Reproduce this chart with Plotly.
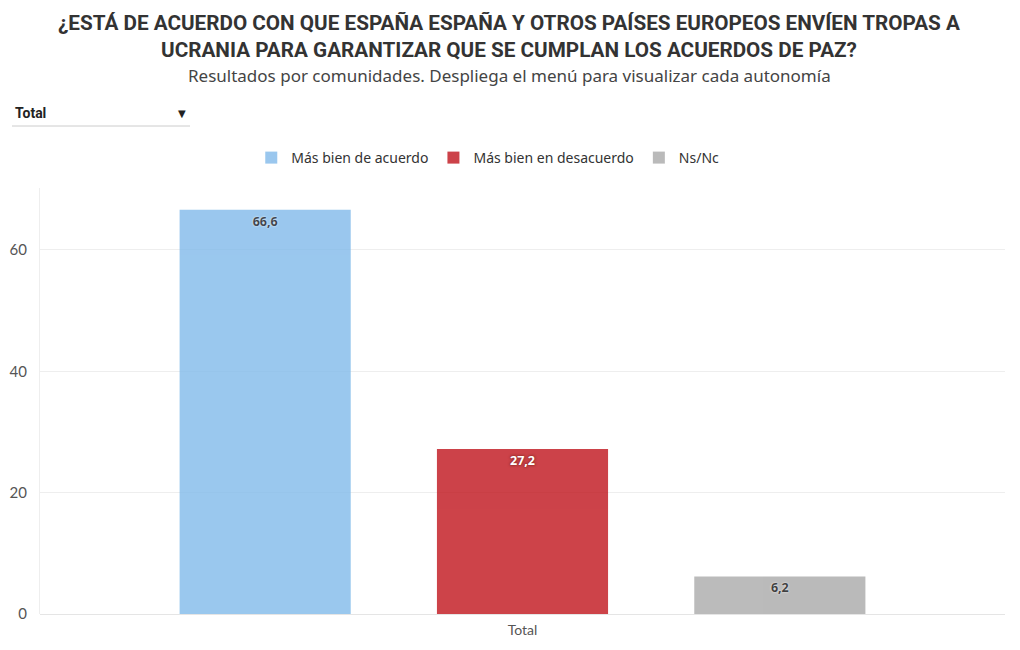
import plotly.graph_objects as go

categories = ["Total"]
series_names = ["Más bien de acuerdo", "Más bien en desacuerdo", "Ns/Nc"]
acuerdo = [66.6]
desacuerdo = [27.2]
nsnc = [6.2]
y_ticks = [0, 20, 40, 60]

colors = ["#81BAEA", "#C0141C", "#AAAAAA"]
label_colors = ["#111827", "#FFFFFF", "#111111"]
label_shadows = ["0px 0px 2px #FFFFFF",
                 "0px 0px 3px #8B0000, 0px 0px 3px #8B0000, 0px 0px 2px #8B0000, 0px 0px 2px #8B0000",
                 "0px 0px 2px #FFFFFF"]

fig = go.Figure()
for name, vals, col, lc, sh in zip(series_names, [acuerdo, desacuerdo, nsnc], colors, label_colors, label_shadows):
    fig.add_trace(go.Bar(
        x=categories, y=vals, name=name,
        marker=dict(color=col, line=dict(width=0)),
        opacity=0.8,
        texttemplate="%{y:.1f}",
        textposition="inside",
        insidetextanchor="end",
        textangle=0,
        textfont=dict(family="Noto Sans", size=12.5, color=lc, weight="bold", shadow=sh),
        hovertemplate="%{fullData.name}: %{y:.1f}<extra></extra>",
    ))

title_font = "Liberation Sans Narrow, Roboto, Arial Narrow, sans-serif"
W, H = 1004, 634

fig.update_layout(
    width=W, height=H,
    margin=dict(l=32, r=7, t=180, b=28, autoexpand=False),
    paper_bgcolor="white", plot_bgcolor="white",
    separators=",.",
    barmode="group", bargap=0.2, bargroupgap=0.335,
    showlegend=True,
    legend=dict(orientation="h", x=0.464, xanchor="center", y=1 - 150 / H, yref="container",
                yanchor="middle", font=dict(family="Noto Sans", size=14, color="#333333"),
                itemsizing="constant", traceorder="normal", itemwidth=30),
    uniformtext=dict(mode=False),
    xaxis=dict(showgrid=False, showline=False, ticks="", ticklabelstandoff=6,
               tickfont=dict(family="Lato", size=14, color="#555555")),
    yaxis=dict(range=[0, 70.2], tickvals=y_ticks, showgrid=True, gridcolor="#EEEEEE", gridwidth=1,
               zeroline=True, zerolinecolor="#E5E5E5", zerolinewidth=1,
               showline=True, linecolor="#EEEEEE", linewidth=1,
               ticks="", ticklabelstandoff=9,
               tickfont=dict(family="Lato", size=15, color="#555555")),
    font=dict(family="Noto Sans", color="#333333"),
)

fig.add_annotation(text="<b>¿ESTÁ DE ACUERDO CON QUE ESPAÑA ESPAÑA Y OTROS PAÍSES EUROPEOS ENVÍEN TROPAS A<br>UCRANIA PARA GARANTIZAR QUE SE CUMPLAN LOS ACUERDOS DE PAZ?</b>",
                   xref="paper", yref="paper", x=0.4865, y=1, yshift=179, xanchor="center", yanchor="top",
                   showarrow=False, align="center",
                   font=dict(family=title_font, size=20.7, color="#333333"))
fig.add_annotation(text="Resultados por comunidades. Despliega el menú para visualizar cada autonomía",
                   xref="paper", yref="paper", x=0.4865, y=1, yshift=113, xanchor="center", yanchor="middle",
                   showarrow=False, font=dict(family="Noto Sans", size=17, color="#444444"))
fig.add_annotation(text="<b>Total</b>", xref="paper", yref="paper", x=0, xshift=-27, y=1, yshift=75,
                   xanchor="left", yanchor="middle", showarrow=False,
                   font=dict(family=title_font, size=14, color="#222222"))
fig.add_annotation(text="▼", xref="paper", yref="paper", x=0, xshift=142, y=1, yshift=75,
                   xanchor="center", yanchor="middle", showarrow=False,
                   font=dict(family="DejaVu Sans", size=10, color="#222222"))
fig.add_shape(type="line", xref="paper", yref="paper", x0=-28/965, x1=150/965, y0=1 + 62/426, y1=1 + 62/426,
              line=dict(color="#CCCCCC", width=1))

fig.write_html("out.html")
